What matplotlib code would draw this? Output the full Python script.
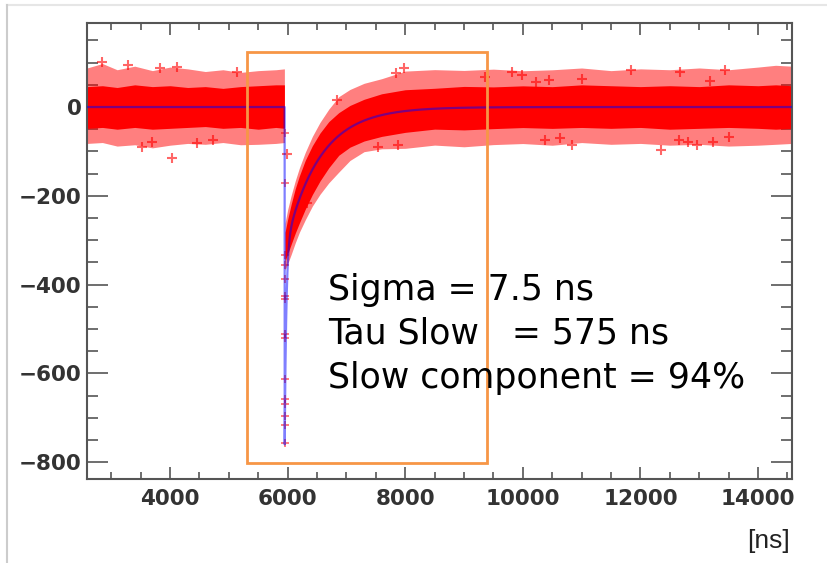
import numpy as np
import matplotlib
matplotlib.use("Agg")
import matplotlib.pyplot as plt
from matplotlib.patches import Rectangle
from matplotlib.lines import Line2D
from matplotlib.ticker import MultipleLocator

# fit parameters (from the fit summary)
sigma_ns = 7.5
tau_slow = 575.0
slow_frac = 0.94
t0 = 5950.0          # trigger time of the pulse
slow_amp = 320.0     # amplitude of the slow exponential
peak_depth = 760.0   # depth of the fast spike

# noise band before the pulse: offsets from the baseline
pre_t = [2590, 2850, 3100, 3400, 3700, 4000, 4300, 4600, 4900, 5200, 5500, 5800, 5945]
pre_out_hi = [88, 98, 84, 92, 82, 90, 86, 80, 84, 78, 82, 84, 86]
pre_out_lo = [-82, -80, -88, -85, -92, -86, -82, -84, -80, -85, -84, -82, -80]
pre_core_hi = [46, 48, 44, 50, 46, 48, 44, 46, 42, 46, 48, 50, 50]
pre_core_lo = [-48, -46, -50, -46, -50, -48, -46, -44, -48, -46, -50, -46, -48]

# noise band after the pulse: offsets from the slow decay
post_t = [5955, 6000, 6060, 6130, 6200, 6300, 6420, 6550, 6700, 6870, 7060, 7300, 7600, 8000,
          8500, 9000, 9500, 10000, 10500, 11000, 11500, 12000, 12500, 13000, 13500, 14000, 14300, 14580]
post_out_hi = [55, 62, 65, 68, 70, 72, 75, 78, 82, 88, 86, 84, 82, 90,
               88, 84, 86, 82, 84, 88, 82, 86, 84, 88, 84, 90, 94, 92]
post_out_lo = [-50, -60, -68, -72, -75, -80, -82, -84, -84, -82, -74, -70, -76, -84,
               -82, -88, -84, -82, -86, -80, -84, -82, -86, -84, -88, -86, -84, -82]
post_core_hi = [35, 40, 45, 50, 52, 54, 54, 54, 54, 52, 50, 48, 48, 48,
                46, 48, 46, 48, 46, 50, 48, 46, 48, 46, 50, 48, 50, 48]
post_core_lo = [-30, -38, -45, -50, -54, -56, -56, -54, -50, -44, -44, -46, -48, -48,
                -46, -50, -48, -46, -48, -46, -48, -46, -50, -48, -46, -48, -50, -48]

# isolated samples outside the dense band
out_t = [2843, 3285, 3830, 4119, 5139, 3523, 4034, 3693, 4459, 4731, 5989,
         9816, 9986, 9357, 10836, 10381, 10636, 12659, 12812, 10222, 10443,
         7980, 7844, 6840, 7537, 7877, 6330,
         11843, 12676, 13441, 11001, 13186, 12353, 12965, 13236, 13508]
out_v = [101, 95, 88, 90, 79, -90, -115, -79, -81, -74, -106,
         79, 72, 68, -86, -74, -70, -74, -79, 56, 61,
         88, 77, 16, -90, -86, -216,
         83, 79, 83, 63, 59, -97, -86, -79, -68]

# samples on the fast spike
spike_t = [5952, 5950, 5960, 5955, 5962, 5950, 5958, 5952, 5960, 5950, 5956, 5952, 5955, 5950, 5952]
spike_v = [-59, -172, -334, -357, -388, -425, -432, -512, -520, -612, -658, -668, -697, -716, -756]

tick_color = "#555555"
red = "#ff0000"

fast_amp = peak_depth - slow_amp
tau_fast = slow_amp * tau_slow * (1 - slow_frac) / (slow_frac * fast_amp)


def slow_part(t):
    t = np.asarray(t, dtype=float)
    return np.where(t >= t0, -slow_amp * np.exp(-(t - t0) / tau_slow), 0.0)


def fit_curve(t):
    t = np.asarray(t, dtype=float)
    fast = np.where(t >= t0, -fast_amp * np.exp(-(t - t0) / tau_fast), 0.0)
    return fast + slow_part(t)


fig = plt.figure(figsize=(8.28, 5.63), dpi=100)
ax = fig.add_axes([0.1051, 0.1492, 0.8514, 0.8105])

# data cloud: speckled outer band, solid core
pre_t_a = np.array(pre_t, float)
post_t_a = np.array(post_t, float)
post_c = slow_part(post_t_a)
ax.fill_between(pre_t_a, pre_out_lo, pre_out_hi, color=red, alpha=0.5, lw=0, zorder=2)
ax.fill_between(pre_t_a, pre_core_lo, pre_core_hi, color=red, alpha=1.0, lw=0, zorder=2)
ax.fill_between(post_t_a, post_c + np.array(post_out_lo), post_c + np.array(post_out_hi),
                color=red, alpha=0.5, lw=0, zorder=2)
ax.fill_between(post_t_a, post_c + np.array(post_core_lo), post_c + np.array(post_core_hi),
                color=red, alpha=1.0, lw=0, zorder=2)

ax.plot(out_t, out_v, ls="none", marker="+", ms=7, mew=1.5, color=red, alpha=0.6, zorder=3)
ax.plot(spike_t, spike_v, ls="none", marker="+", ms=6, mew=1.3, color=red, alpha=0.55, zorder=3)

# fit
tt = np.concatenate([np.linspace(2500, t0 - 1, 400), np.linspace(t0, t0 + 300, 1500),
                     np.linspace(t0 + 301, 14700, 2000)])
ax.plot(tt, fit_curve(tt), color="#0000ff", lw=1.6, alpha=0.5, zorder=4)

ax.set_xlim(2588, 14578)
ax.set_ylim(-838, 190)

ax.xaxis.set_major_locator(MultipleLocator(2000))
ax.xaxis.set_minor_locator(MultipleLocator(500))
ax.yaxis.set_major_locator(MultipleLocator(200))
ax.yaxis.set_minor_locator(MultipleLocator(50))

ax.tick_params(axis="both", which="both", direction="in", top=True, right=True,
               color=tick_color, width=1.2, labelsize=15.5, labelcolor="#333333")
ax.tick_params(axis="x", which="major", length=8.6, pad=7)
ax.tick_params(axis="x", which="minor", length=4.7)
ax.tick_params(axis="y", which="major", length=15, pad=4)
ax.tick_params(axis="y", which="minor", length=8)
for lab in ax.get_xticklabels() + ax.get_yticklabels():
    lab.set_fontweight("bold")
for sp in ax.spines.values():
    sp.set_color(tick_color)
    sp.set_linewidth(1.5)

fig.text(790 / 828, 1 - 548 / 563, "[ns]", ha="right", va="baseline",
         fontsize=19, family="Liberation Sans", color="#222222")

# fit summary
lines = ["Sigma = 7.5 ns", "Tau Slow   = 575 ns", "Slow component = 94%"]
baselines = [300, 343, 388]
for txt, yb in zip(lines, baselines):
    fig.text(328 / 828, 1 - yb / 563, txt, ha="left", va="baseline",
             fontsize=25, family="DejaVu Sans", color="black", zorder=5)

# highlighted window
ax.add_patch(Rectangle((5310, -802), 4080, 926, fill=False, edgecolor="#f79646",
                       lw=2.0, clip_on=False, zorder=10))

# slide frame
fig.add_artist(Line2D([7 / 828, 1], [1 - 5 / 563, 1 - 5 / 563], color="#e6e6e6", lw=1.5))
fig.add_artist(Line2D([7 / 828, 7 / 828], [0, 1 - 5 / 563], color="#cccccc", lw=1.5))

fig.savefig("out.png", dpi=100)
